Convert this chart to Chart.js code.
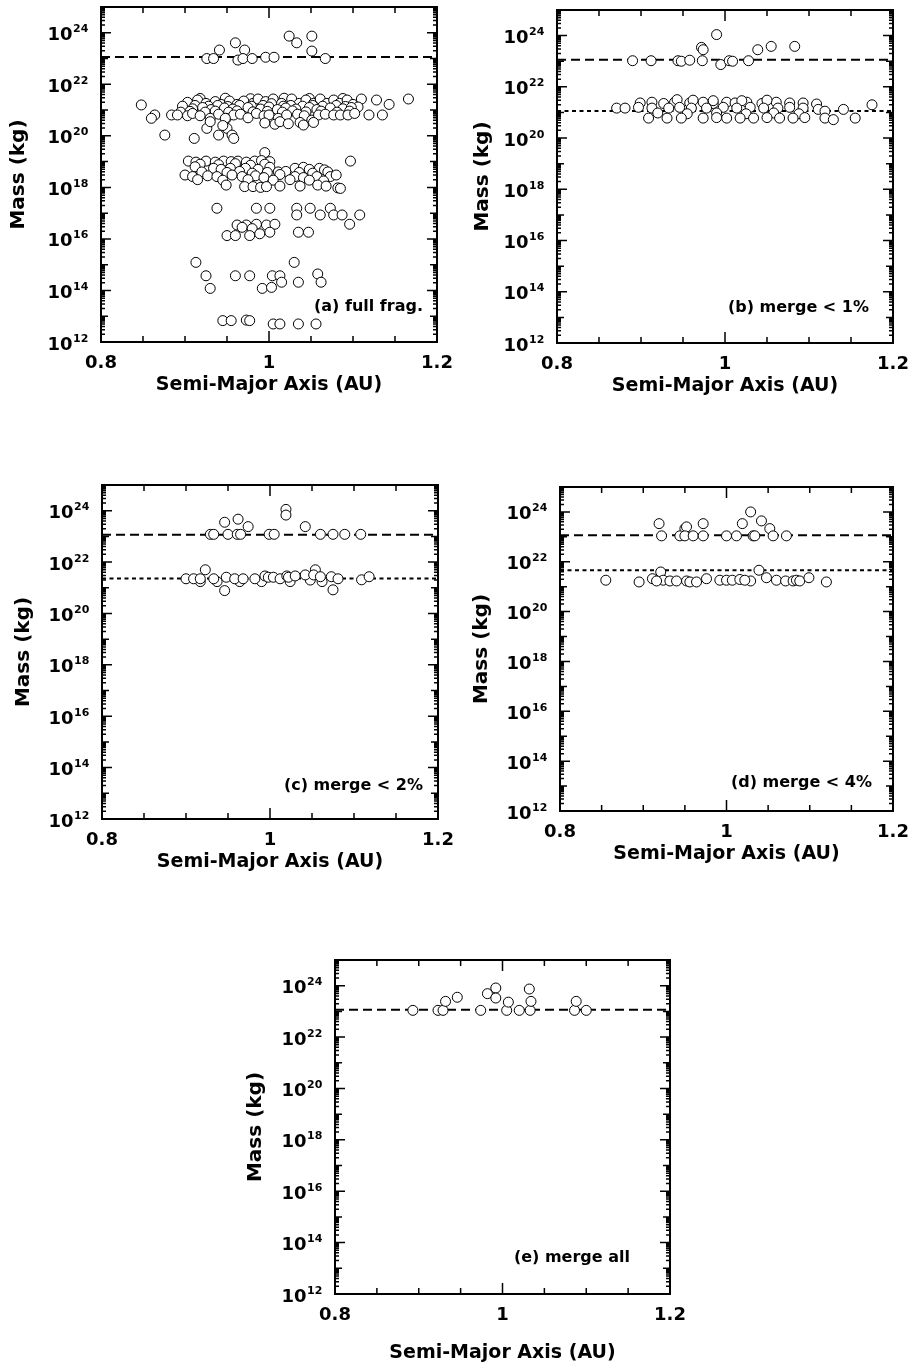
<!DOCTYPE html>
<html>
<head>
<meta charset="utf-8">
<script src="https://cdn.jsdelivr.net/npm/chart.js@4.4.0/dist/chart.umd.min.js"></script>
<style>
  body { margin: 0; background: #fff; width: 914px; height: 1372px; position: relative; overflow: hidden; }
  .panel { position: absolute; }
</style>
</head>
<body>
<div class="panel" id="panel-a"><canvas id="chart-a"></canvas></div>
<div class="panel" id="panel-b"><canvas id="chart-b"></canvas></div>
<div class="panel" id="panel-c"><canvas id="chart-c"></canvas></div>
<div class="panel" id="panel-d"><canvas id="chart-d"></canvas></div>
<div class="panel" id="panel-e"><canvas id="chart-e"></canvas></div>
<script>
// axis ticks
const xTickLabels = [0.8, 1, 1.2];
const yTickExponents = [12, 14, 16, 18, 20, 22, 24];

// reference masses (kg) for the dashed / dotted lines
const embryoMass = 1.15e23;
const mergeMassB = 1.15e21;
const mergeMassC = 2.3e21;
const mergeMassD = 4.6e21;

// [semi-major axis (AU), log10 mass (kg)]
const pointsA = [
  [0.926,23.00],[0.934,23.00],[0.941,23.33],[0.960,23.61],[0.971,23.33],[0.963,22.94],[0.969,23.00],[0.980,23.00],
  [0.996,23.05],[1.006,23.05],[1.024,23.87],[1.033,23.61],[1.051,23.87],[1.051,23.29],[1.067,23.00],
  [0.848,21.20],[0.864,20.81],[0.860,20.68],[0.876,20.03],[0.911,19.90],
  [0.918,21.45],[0.948,21.46],[0.978,21.44],[1.018,21.46],[1.048,21.45],[1.088,21.45],
  [0.903,21.30],[0.915,21.39],[0.925,21.26],[0.936,21.33],[0.943,21.22],[0.953,21.35],[0.962,21.22],[0.970,21.35],
  [0.981,21.26],[0.987,21.43],[0.996,21.33],[1.005,21.43],[1.015,21.26],[1.027,21.43],[1.036,21.26],[1.044,21.39],
  [1.053,21.26],[1.061,21.43],[1.069,21.26],[1.077,21.39],[1.084,21.26],[1.093,21.39],[1.100,21.22],[1.110,21.43],
  [1.128,21.39],[1.143,21.22],[1.166,21.43],[1.135,20.81],[1.119,20.81],
  [0.897,21.15],[0.912,21.18],[0.928,21.15],[0.939,21.18],[0.951,21.14],[0.965,21.18],[0.979,21.15],[0.993,21.18],
  [1.003,21.25],[1.017,21.15],[1.026,21.18],[1.040,21.15],[1.052,21.18],[1.064,21.15],[1.080,21.18],[1.091,21.14],[1.106,21.12],
  [0.909,21.05],[0.921,21.10],[0.931,21.02],[0.947,21.08],[0.957,21.04],[0.975,21.10],[0.990,21.04],[1.000,21.12],
  [1.010,21.02],[1.020,21.08],[1.032,21.04],[1.048,21.10],[1.057,21.02],[1.073,21.08],[1.088,21.05],[1.098,21.10],
  [0.895,20.92],[0.906,20.95],[0.924,20.92],[0.936,20.96],[0.952,20.92],[0.962,20.97],[0.981,20.93],[0.998,20.95],
  [1.016,20.92],[1.028,20.97],[1.044,20.93],[1.062,20.96],[1.081,20.92],[1.096,20.96],
  [0.884,20.81],[0.891,20.81],[0.903,20.78],[0.909,20.87],[0.918,20.78],[0.930,20.68],[0.940,20.84],[0.949,20.68],
  [0.958,20.81],[0.966,20.84],[0.975,20.70],[0.985,20.87],[0.994,20.78],[1.000,20.81],[1.011,20.68],[1.021,20.81],
  [1.034,20.84],[1.042,20.78],[1.051,20.61],[1.059,20.81],[1.067,20.84],[1.077,20.81],[1.085,20.81],[1.094,20.81],[1.102,20.87],
  [1.007,20.45],[1.013,20.55],[1.037,20.52],[1.041,20.42],[1.053,20.52],[0.995,20.50],[1.023,20.47],
  [0.926,20.29],[0.940,20.03],[0.948,20.68],[0.950,20.29],[0.956,20.03],[0.958,19.90],[0.930,20.55],[0.945,20.40],
  [0.995,19.35],[1.097,19.02],
  [0.904,19.02],[0.913,18.98],[0.925,19.02],[0.936,18.98],[0.946,19.02],[0.955,19.00],[0.963,19.02],[0.973,18.98],
  [0.983,19.02],[0.991,19.04],[1.001,19.00],
  [0.918,18.90],[0.940,18.88],[0.960,18.92],[0.978,18.86],[0.995,18.90],
  [0.912,18.80],[0.934,18.74],[0.943,18.70],[0.954,18.74],[0.972,18.74],[0.987,18.70],[1.001,18.78],[1.011,18.60],
  [1.031,18.74],[1.041,18.78],[1.048,18.70],[1.060,18.74],[1.066,18.68],
  [0.920,18.60],[0.950,18.58],[0.965,18.62],[0.980,18.55],[0.998,18.58],[1.020,18.62],[1.036,18.58],[1.052,18.55],[1.070,18.60],
  [0.900,18.48],[0.909,18.42],[0.927,18.45],[0.938,18.42],[0.956,18.48],[0.968,18.42],[0.984,18.45],[0.994,18.38],
  [1.013,18.50],[1.031,18.42],[1.041,18.38],[1.057,18.42],[1.073,18.42],[1.080,18.48],
  [0.915,18.30],[0.945,18.28],[0.975,18.30],[1.005,18.28],[1.025,18.30],[1.048,18.28],[1.065,18.25],
  [0.949,18.09],[0.971,18.03],[0.981,18.03],[0.990,18.00],[0.997,18.03],[1.013,18.05],[1.037,18.05],[1.058,18.09],
  [1.068,18.05],[1.082,17.98],[1.085,17.96],
  [0.938,17.19],[0.985,17.19],[1.001,17.19],[1.033,17.19],[1.049,17.19],[1.073,17.19],[1.033,16.93],[1.061,16.93],
  [1.077,16.93],[1.087,16.93],[1.108,16.93],[1.096,16.57],
  [0.962,16.54],[0.973,16.54],[0.985,16.57],[0.997,16.54],[1.007,16.57],[0.968,16.45],[0.980,16.40],
  [0.950,16.13],[0.960,16.13],[0.977,16.13],[0.989,16.20],[1.001,16.26],[1.035,16.26],[1.047,16.26],
  [0.913,15.09],[1.030,15.09],[0.925,14.57],[0.930,14.08],[0.960,14.57],[0.977,14.57],[1.004,14.57],[1.013,14.57],
  [1.015,14.32],[0.992,14.08],[1.003,14.12],[1.035,14.32],[1.058,14.64],[1.062,14.32],
  [0.945,12.83],[0.955,12.83],[0.973,12.85],[0.977,12.83],[1.005,12.70],[1.013,12.70],[1.035,12.70],[1.056,12.70]
];

const pointsB = [
  [0.990,24.04],[0.972,23.54],[0.974,23.45],[1.039,23.45],[1.055,23.58],[1.083,23.58],
  [0.890,23.02],[0.912,23.02],[0.944,23.02],[0.948,23.00],[0.958,23.04],[0.973,23.02],[0.995,22.87],[1.005,23.02],
  [1.009,23.00],[1.028,23.02],
  [0.899,21.37],[0.913,21.40],[0.927,21.35],[0.940,21.40],[0.958,21.37],[0.974,21.40],[0.986,21.35],[1.002,21.40],
  [1.012,21.37],[1.026,21.40],[1.044,21.35],[1.061,21.40],[1.077,21.37],[1.093,21.37],[1.109,21.33],
  [0.943,21.50],[0.962,21.48],[0.986,21.46],[1.050,21.48],[1.020,21.46],
  [0.871,21.17],[0.881,21.17],[0.897,21.20],[0.913,21.17],[0.933,21.17],[0.946,21.20],[0.960,21.17],[0.978,21.17],
  [0.998,21.20],[1.014,21.17],[1.030,21.20],[1.046,21.17],[1.063,21.17],[1.077,21.20],[1.093,21.17],[1.111,21.12],
  [1.119,21.05],[1.141,21.12],[1.175,21.30],
  [0.920,20.98],[0.955,20.95],[0.990,20.98],[1.025,20.95],[1.058,20.98],[1.088,20.95],
  [0.909,20.78],[0.931,20.78],[0.948,20.78],[0.974,20.78],[0.990,20.80],[1.002,20.78],[1.018,20.78],[1.034,20.78],
  [1.050,20.80],[1.065,20.78],[1.081,20.78],[1.095,20.80],[1.119,20.78],[1.129,20.72],[1.155,20.78]
];

const pointsC = [
  [1.019,24.05],[1.019,23.83],[0.946,23.55],[0.962,23.67],[0.974,23.38],[1.042,23.38],
  [0.929,23.08],[0.933,23.08],[0.950,23.08],[0.961,23.08],[0.965,23.08],[0.999,23.08],[1.005,23.08],[1.060,23.08],
  [1.075,23.08],[1.089,23.08],[1.108,23.08],
  [0.917,21.24],[0.937,21.24],[0.964,21.24],[0.990,21.24],[1.024,21.24],[1.048,21.30],[1.062,21.24],
  [0.923,21.70],[1.054,21.70],[0.946,20.89],[1.075,20.92],
  [0.900,21.35],[0.909,21.35],[0.917,21.35],[0.933,21.35],[0.948,21.41],[0.958,21.35],[0.968,21.35],[0.982,21.35],
  [0.994,21.46],[0.998,21.41],[1.004,21.41],[1.012,21.35],[1.020,21.46],[1.022,21.41],[1.030,21.46],[1.042,21.50],
  [1.052,21.50],[1.060,21.43],[1.073,21.43],[1.081,21.35],[1.109,21.31],[1.118,21.43]
];

const pointsD = [
  [0.919,23.53],[0.950,23.33],[0.952,23.40],[0.972,23.53],[1.019,23.53],[1.029,24.00],[1.042,23.64],[1.052,23.33],
  [0.922,23.04],[0.944,23.04],[0.950,23.04],[0.960,23.04],[0.972,23.04],[1.000,23.04],[1.012,23.04],[1.032,23.04],
  [1.034,23.04],[1.056,23.04],[1.072,23.04],
  [0.855,21.26],[0.895,21.19],[0.911,21.32],[0.921,21.59],[0.924,21.26],[0.932,21.23],[0.916,21.23],[0.940,21.23],
  [0.952,21.23],[0.956,21.19],[0.964,21.19],[0.976,21.32],[0.992,21.26],[1.000,21.26],[1.007,21.26],[1.016,21.29],
  [1.029,21.23],[1.022,21.26],[1.039,21.66],[1.048,21.36],[1.060,21.26],[1.071,21.23],[1.080,21.23],[1.084,21.26],
  [1.088,21.23],[1.099,21.36],[1.120,21.19]
];

const pointsE = [
  [0.893,23.04],[0.923,23.04],[0.929,23.04],[0.974,23.04],[1.005,23.04],[1.020,23.04],[1.033,23.04],[1.086,23.04],[1.100,23.04],
  [0.932,23.39],[0.946,23.55],[0.982,23.69],[0.992,23.91],[0.992,23.52],[1.007,23.36],[1.032,23.87],[1.034,23.39],[1.088,23.39]
];

Chart.defaults.font.family = "'DejaVu Sans', sans-serif";
Chart.defaults.font.weight = 'bold';
Chart.defaults.color = '#000';

// frame, inward ticks on all four sides, 10^n labels and panel caption
const frameTicks = {
  id: 'frameTicks',
  afterDraw(chart, args, opts) {
    const ctx = chart.ctx;
    const {left, top, right, bottom} = chart.chartArea;
    const xs = chart.scales.x, ys = chart.scales.y;
    ctx.save();
    ctx.strokeStyle = '#000';
    ctx.lineWidth = 1.5;
    ctx.beginPath();
    xs.ticks.forEach(t => {
      const px = xs.getPixelForValue(t.value);
      const len = xTickLabels.some(v => Math.abs(v - t.value) < 1e-6) ? 11 : 6;
      ctx.moveTo(px, bottom); ctx.lineTo(px, bottom - len);
      ctx.moveTo(px, top); ctx.lineTo(px, top + len);
    });
    for (let e = 12; e <= 24; e++) {
      for (let m = 1; m <= 9; m++) {
        const py = ys.getPixelForValue(m * Math.pow(10, e));
        const len = m === 1 ? (e % 2 === 0 ? 10 : 7) : 4;
        ctx.moveTo(left, py); ctx.lineTo(left + len, py);
        ctx.moveTo(right, py); ctx.lineTo(right - len, py);
      }
    }
    ctx.stroke();
    ctx.lineWidth = 2;
    ctx.strokeRect(left, top, right - left, bottom - top);

    ctx.fillStyle = '#000';
    yTickExponents.forEach(e => {
      const py = ys.getPixelForValue(Math.pow(10, e));
      ctx.font = "bold 18px 'DejaVu Sans'";
      ctx.textAlign = 'right';
      ctx.textBaseline = 'alphabetic';
      ctx.fillText('10', left - 28.5, py + 7.5);
      ctx.font = "bold 11px 'DejaVu Sans'";
      ctx.textAlign = 'left';
      ctx.fillText(String(e), left - 28, py - 0.5);
    });

    ctx.font = "bold 16px 'DejaVu Sans'";
    ctx.textAlign = 'right';
    ctx.fillText(opts.label, right - opts.labelRight, bottom - opts.labelBottom);
    ctx.restore();
  }
};

function makePanel(id, box, points, lines, caption) {
  // padRight leaves room for half the "1.2" label plus the tick padding
  const yAxisW = 101, padTop = 10, padRight = 28;
  const wrap = document.getElementById('panel-' + id);
  wrap.style.left = (box.left - yAxisW) + 'px';
  wrap.style.top = (box.top - padTop) + 'px';
  const canvas = document.getElementById('chart-' + id);
  canvas.width = box.right - box.left + yAxisW + padRight;
  canvas.height = box.bottom - box.top + padTop + box.axisH;

  const datasets = [{
    data: points.map(p => ({x: p[0], y: Math.pow(10, p[1])})),
    pointRadius: 5,
    pointHoverRadius: 5,
    pointBorderWidth: 1,
    borderColor: '#000',
    backgroundColor: '#fff'
  }];
  lines.forEach(l => {
    datasets.push({
      data: [{x: 0.8, y: l.mass}, {x: 1.2, y: l.mass}],
      showLine: true,
      pointRadius: 0,
      borderColor: '#000',
      borderWidth: 2,
      borderDash: l.dash
    });
  });

  return new Chart(canvas.getContext('2d'), {
    type: 'scatter',
    data: {datasets},
    plugins: [frameTicks],
    options: {
      responsive: false,
      animation: false,
      devicePixelRatio: 1,
      layout: {autoPadding: false, padding: {left: 0, top: padTop, right: padRight, bottom: 0}},
      plugins: {
        legend: {display: false},
        tooltip: {enabled: false},
        frameTicks: {label: caption, labelRight: box.labelRight, labelBottom: box.labelBottom}
      },
      scales: {
        x: {
          type: 'linear', min: 0.8, max: 1.2,
          grid: {display: false, drawTicks: false},
          border: {display: false},
          ticks: {
            stepSize: 0.05, autoSkip: false, maxRotation: 0, padding: 11,
            font: {size: 18, weight: 'bold'},
            callback: v => {
              const t = xTickLabels.find(l => Math.abs(l - v) < 1e-6);
              return t === undefined ? '' : String(t);
            }
          },
          title: {display: true, text: 'Semi-Major Axis (AU)', font: {size: 19, weight: 'bold'}, padding: {top: 0, bottom: box.titleBottom}},
          afterFit: s => { s.height = box.axisH; }
        },
        y: {
          type: 'logarithmic', min: 1e12, max: 1e25,
          grid: {display: false, drawTicks: false},
          border: {display: false},
          ticks: {display: false},
          title: {display: true, text: 'Mass (kg)', font: {size: 20, weight: 'bold'}, padding: {top: box.titleLeft, bottom: 0}},
          afterFit: s => { s.width = yAxisW; }
        }
      }
    }
  });
}

const longDash = [9, 5];
const shortDash = [4, 3.5];

makePanel('a', {left: 101, top: 7, right: 437, bottom: 342, axisH: 58, titleBottom: 4, titleLeft: 7, labelRight: 14, labelBottom: 31},
  pointsA, [{mass: embryoMass, dash: longDash}], '(a) full frag.');
makePanel('b', {left: 557, top: 10, right: 893, bottom: 343, axisH: 58, titleBottom: 4, titleLeft: 14.5, labelRight: 24, labelBottom: 31},
  pointsB, [{mass: embryoMass, dash: longDash}, {mass: mergeMassB, dash: shortDash}], '(b) merge < 1%');
makePanel('c', {left: 102, top: 485, right: 438, bottom: 819, axisH: 58, titleBottom: 4, titleLeft: 10.5, labelRight: 15, labelBottom: 29},
  pointsC, [{mass: embryoMass, dash: longDash}, {mass: mergeMassC, dash: shortDash}], '(c) merge < 2%');
makePanel('d', {left: 560, top: 487, right: 893, bottom: 811, axisH: 58, titleBottom: 4, titleLeft: 11, labelRight: 21, labelBottom: 24},
  pointsD, [{mass: embryoMass, dash: longDash}, {mass: mergeMassD, dash: shortDash}], '(d) merge < 4%');
makePanel('e', {left: 335, top: 960, right: 670, bottom: 1294, axisH: 74, titleBottom: 4, titleLeft: 10, labelRight: 40, labelBottom: 32},
  pointsE, [{mass: embryoMass, dash: longDash}], '(e) merge all');
</script>
</body>
</html>
